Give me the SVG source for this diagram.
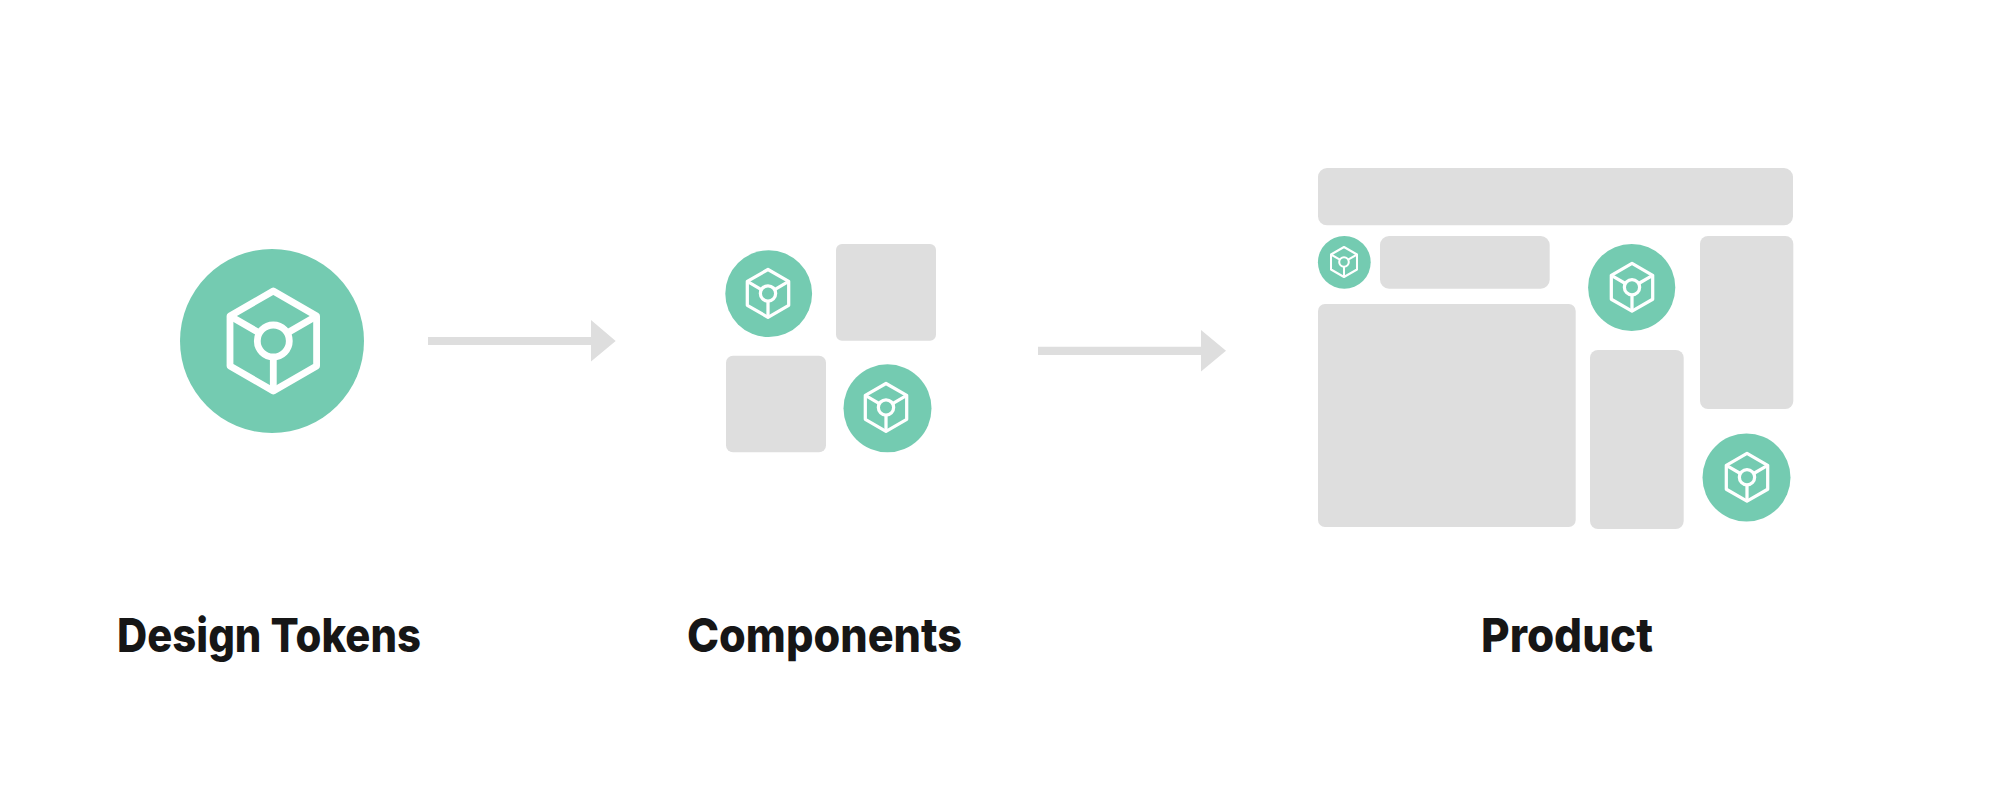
<svg xmlns="http://www.w3.org/2000/svg" xmlns:xlink="http://www.w3.org/1999/xlink" width="1990" height="812" viewBox="0 0 1990 812">
<style>
.tok{fill:#74cbb1}
.box{fill:#dedede}
.arrow{fill:#dedede}
.ic{fill:none;stroke:#fff;stroke-width:6.8;stroke-linejoin:round;stroke-linecap:butt}
.lab{font-family:"Inter","Liberation Sans",sans-serif;font-weight:800;font-size:47px;fill:#161616}
</style>
<defs>
<g id="cube" class="ic">
<path d="M0-50 43.300-25V25L0 50-43.300 25V-25Z"/>
<circle r="16"/>
<path d="M-43.300-25-13.900-8M43.300-25 13.900-8M0 16V50"/>
</g>
</defs>
<rect width="1990" height="812" fill="#fff"/>
<g id="connectors">
<path class="arrow" d="M428 337H591V320L615.700 341 591 361.500V345H428Z"/>
<path class="arrow" d="M1038 346.700H1201V330L1226 350.700 1201 371.500V355H1038Z"/>
</g>
<g id="design-tokens">
<circle class="tok" cx="272" cy="341" r="92"/>
<use href="#cube" transform="translate(273.300 341)"/>
<text class="lab" x="117" y="651.700" textLength="304" lengthAdjust="spacingAndGlyphs">Design Tokens</text>
</g>
<g id="components">
<circle class="tok" cx="768.700" cy="293.700" r="43.400"/>
<use href="#cube" transform="translate(768 293.400) scale(.478)"/>
<rect class="box" x="836" y="244" width="100" height="96.700" rx="6"/>
<rect class="box" x="726" y="355.700" width="100" height="96.600" rx="7"/>
<circle class="tok" cx="887.500" cy="408.300" r="44"/>
<use href="#cube" transform="translate(886 407.400) scale(.478)"/>
<text class="lab" x="687" y="651.700" textLength="275" lengthAdjust="spacingAndGlyphs">Components</text>
</g>
<g id="product">
<rect class="box" x="1318" y="168" width="475" height="57.300" rx="9"/>
<circle class="tok" cx="1344.300" cy="262.300" r="26.400"/>
<use href="#cube" transform="translate(1344 262) scale(.3)"/>
<rect class="box" x="1380" y="236" width="169.700" height="52.700" rx="9"/>
<circle class="tok" cx="1631.700" cy="287.500" r="43.600"/>
<use href="#cube" transform="translate(1632 287.300) scale(.478)"/>
<rect class="box" x="1700" y="236" width="93.300" height="173" rx="8"/>
<rect class="box" x="1318" y="304" width="257.700" height="223" rx="7"/>
<rect class="box" x="1590" y="350" width="93.700" height="179" rx="8"/>
<circle class="tok" cx="1746.500" cy="477.500" r="44"/>
<use href="#cube" transform="translate(1747 477.300) scale(.478)"/>
<text class="lab" x="1481" y="651.700" textLength="172" lengthAdjust="spacingAndGlyphs">Product</text>
</g>
</svg>
